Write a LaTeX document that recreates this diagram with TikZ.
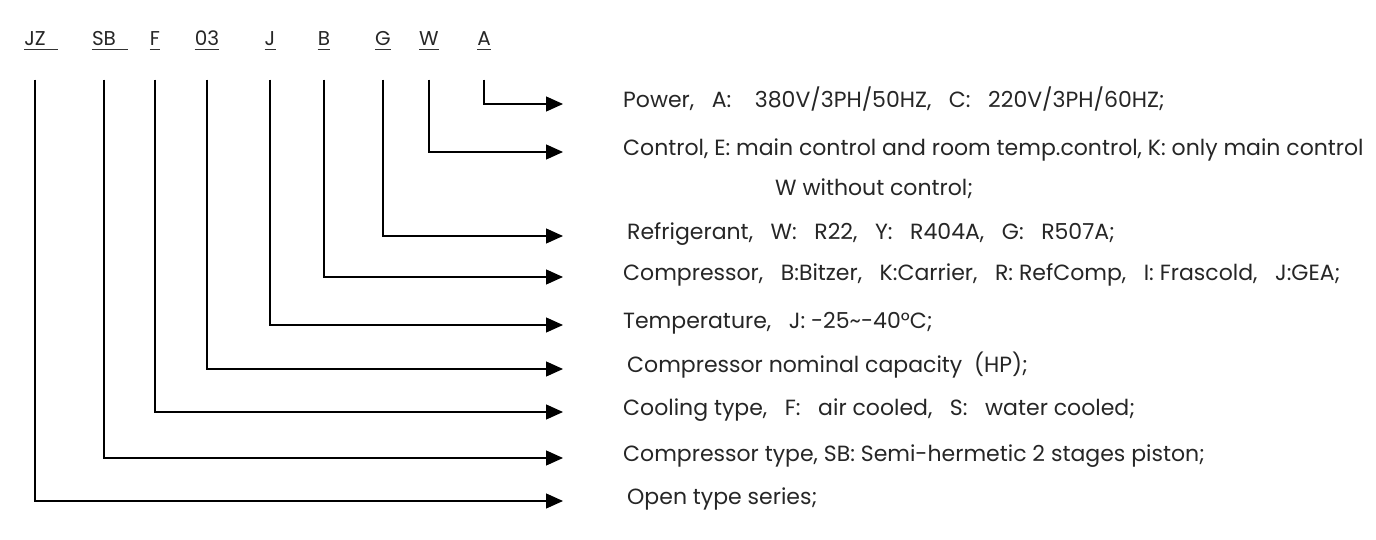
\documentclass[tikz,border=0pt]{standalone}
\usepackage{fontspec}
\setmainfont{Poppins}
\usetikzlibrary{arrows.meta}

% wide punctuation as printed in the source sheet
\newcommand{\wcomma}{,\hspace{0.8em}}
\newcommand{\wcolon}{:\hspace{0.8em}}

\begin{document}
\begin{tikzpicture}[x=1pt,y=-1pt,
    code/.style={inner sep=0pt, text height=0.7em, text depth=0pt,
      font=\fontsize{20}{22}\selectfont, text=black!85},
    desc/.style={anchor=west, inner sep=0pt, text height=0.7em, text depth=0pt,
      font=\fontsize{22}{24}\selectfont, text=black!85},
    uline/.style={line width=1pt, black!80},
    lead/.style={line width=1.3pt, -{Triangle[length=17pt,width=15pt]},
      shorten <=34pt, shorten >=60pt}]
      \useasboundingbox[fill=white] (0,0) rectangle (1376,540);

      % code letters
      \node[code] (cJZ) at (35,42) {JZ};
      \node[code] (cSB) at (104,42) {SB};
      \node[code] (cF) at (155,42) {F};
      \node[code] (c03) at (207,42) {03};
      \node[code] (cJ) at (270,42) {J};
      \node[code] (cB) at (324,42) {B};
      \node[code] (cG) at (383,42) {G};
      \node[code] (cW) at (429,42) {W};
      \node[code] (cA) at (484,42) {A};

      \draw[uline] ([yshift=-4pt]cJZ.base west) -- ([yshift=-4pt,xshift=12pt]cJZ.base east);
      \draw[uline] ([yshift=-4pt]cSB.base west) -- ([yshift=-4pt,xshift=12pt]cSB.base east);
      \draw[uline] ([yshift=-4pt]cF.base west) -- ([yshift=-4pt]cF.base east);
      \draw[uline] ([yshift=-4pt]c03.base west) -- ([yshift=-4pt]c03.base east);
      \draw[uline] ([yshift=-4pt]cJ.base west) -- ([yshift=-4pt]cJ.base east);
      \draw[uline] ([yshift=-4pt]cB.base west) -- ([yshift=-4pt]cB.base east);
      \draw[uline] ([yshift=-4pt]cG.base west) -- ([yshift=-4pt]cG.base east);
      \draw[uline] ([yshift=-4pt]cW.base west) -- ([yshift=-4pt]cW.base east);
      \draw[uline] ([yshift=-4pt]cA.base west) -- ([yshift=-4pt]cA.base east);

      % meanings
      \node[desc] (dA) at (623,104) {Power\wcomma A\wcolon\ 380V/3PH/50HZ\wcomma C\wcolon 220V/3PH/60HZ;};
      \node[desc] (dW) at (623,152) {Control, E: main control and room temp.control, K: only main control};
      \node[desc] (dW2) at (775,192) {W without control;};
      \node[desc] (dG) at (623,236) {\hspace*{4pt}Refrigerant\wcomma W\wcolon R22\wcomma Y\wcolon R404A\wcomma G\wcolon R507A;};
      \node[desc] (dB) at (623,277) {Compressor\wcomma B:Bitzer\wcomma K:Carrier\wcomma R: RefComp\wcomma I: Frascold\wcomma J:GEA;};
      \node[desc] (dJ) at (623,325) {Temperature\wcomma J:\ -25\textasciitilde-40°C;};
      \node[desc] (d03) at (623,369) {\hspace*{4pt}Compressor nominal capacity\ \ (HP);};
      \node[desc] (dF) at (623,412) {Cooling type\wcomma F\wcolon air cooled\wcomma S\wcolon water cooled;};
      \node[desc] (dSB) at (623,458) {Compressor type,\ SB:\ Semi-hermetic 2 stages piston;};
      \node[desc] (dJZ) at (623,501) {\hspace*{4pt}Open type series;};

      % leaders
      \draw[lead] (cA) |- (dA);
      \draw[lead] (cW) |- (dW);
      \draw[lead] (cG) |- (dG);
      \draw[lead] (cB) |- (dB);
      \draw[lead] (cJ) |- (dJ);
      \draw[lead] (c03) |- (d03);
      \draw[lead] (cF) |- (dF);
      \draw[lead] (cSB) |- (dSB);
      \draw[lead] (cJZ) |- (dJZ);
    \end{tikzpicture}
\end{document}
